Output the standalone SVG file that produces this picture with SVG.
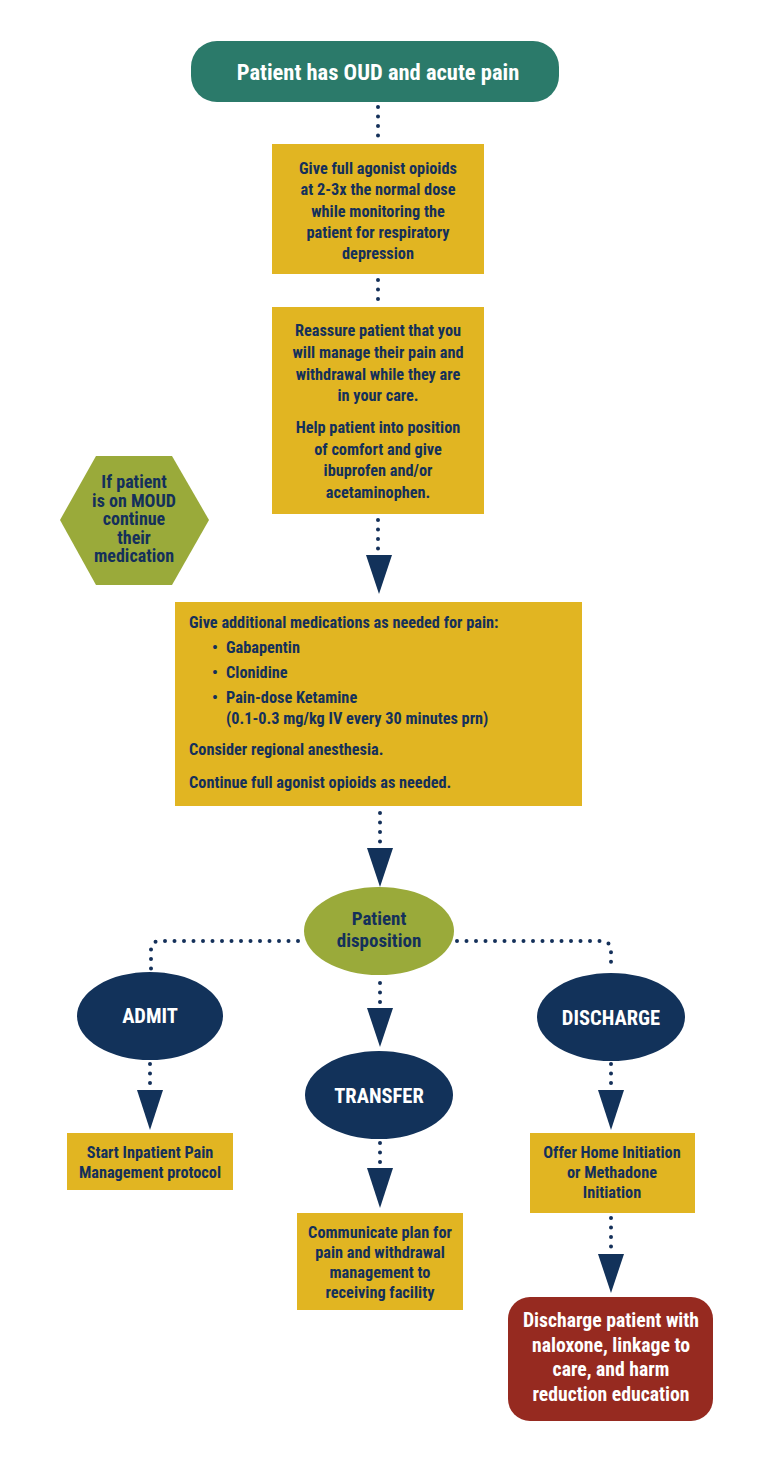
<svg xmlns="http://www.w3.org/2000/svg" width="764" height="1463" viewBox="0 0 764 1463">
<style>
text{font-family:"Liberation Sans Narrow","Roboto Condensed","DejaVu Sans Condensed","Liberation Sans",sans-serif;font-weight:bold;text-anchor:middle}
.d{fill:#14305a;font-size:16.3px}
.w{fill:#ffffff}
.box{fill:#e1b522}
.grn{fill:#9aaa3a}
.nav{fill:#12325a}
.big{font-size:20.5px}
.hx{font-size:18px}
.ds{font-size:19px}
.dot{fill:none;stroke:#14305a;stroke-width:4;stroke-linecap:round;stroke-dasharray:0 9.5}
.arr{fill:#12325a}
.l{text-anchor:start}
</style>
<rect width="764" height="1463" fill="#ffffff"/>
<g id="connectors">
<path class="dot" d="M378 107 V140"/>
<path class="dot" d="M378 280 V301"/>
<path class="dot" d="M378 520 V549"/>
<polygon class="arr" points="366,555 392,555 379,594"/>
<path class="dot" d="M380 813 V842"/>
<polygon class="arr" points="367,848 393,848 380,887"/>
<path class="dot" d="M298 941 H160 Q151 941 151 950 V969"/>
<path class="dot" d="M457 941 H601 Q611 941 611 951 V967"/>
<path class="dot" d="M380 983 V1003"/>
<polygon class="arr" points="367,1008 393,1008 380,1047"/>
<path class="dot" d="M150 1064 V1085"/>
<polygon class="arr" points="137,1090 163,1090 150,1130"/>
<path class="dot" d="M380 1143 V1163"/>
<polygon class="arr" points="367,1168 393,1168 380,1208"/>
<path class="dot" d="M611 1064 V1085"/>
<polygon class="arr" points="598,1090 624,1090 611,1130"/>
<path class="dot" d="M611 1218 V1248"/>
<polygon class="arr" points="598,1254 624,1254 611,1293"/>
</g>
<g id="start">
<rect x="191" y="41" width="368" height="61" rx="26" fill="#2b7a6a"/>
<text class="w" x="378" y="80" font-size="22.5">Patient has OUD and acute pain</text>
</g>
<g id="give-opioids">
<rect class="box" x="272" y="144" width="212" height="130"/>
<text class="d" x="378" y="174">Give full agonist opioids</text>
<text class="d" x="378" y="195">at 2-3x the normal dose</text>
<text class="d" x="378" y="217">while monitoring the</text>
<text class="d" x="378" y="238">patient for respiratory</text>
<text class="d" x="378" y="259">depression</text>
</g>
<g id="reassure">
<rect class="box" x="272" y="307" width="212" height="207"/>
<text class="d" x="378" y="336">Reassure patient that you</text>
<text class="d" x="378" y="358">will manage their pain and</text>
<text class="d" x="378" y="380">withdrawal while they are</text>
<text class="d" x="378" y="401">in your care.</text>
<text class="d" x="378" y="433">Help patient into position</text>
<text class="d" x="378" y="455">of comfort and give</text>
<text class="d" x="378" y="476">ibuprofen and/or</text>
<text class="d" x="378" y="498">acetaminophen.</text>
</g>
<g id="moud">
<polygon class="grn" points="60,520 96,456 172,456 209,520 172,585 96,585"/>
<text class="d hx" x="134" y="488">If patient</text>
<text class="d hx" x="134" y="506.5">is on MOUD</text>
<text class="d hx" x="134" y="525">continue</text>
<text class="d hx" x="134" y="543.5">their</text>
<text class="d hx" x="134" y="562">medication</text>
</g>
<g id="additional">
<rect class="box" x="175" y="602" width="407" height="204"/>
<text class="d l" x="189" y="628">Give additional medications as needed for pain:</text>
<text class="d l" x="212" y="653">•</text>
<text class="d l" x="226" y="653">Gabapentin</text>
<text class="d l" x="212" y="678">•</text>
<text class="d l" x="226" y="678">Clonidine</text>
<text class="d l" x="212" y="703">•</text>
<text class="d l" x="226" y="703">Pain-dose Ketamine</text>
<text class="d l" x="226" y="724">(0.1-0.3 mg/kg IV every 30 minutes prn)</text>
<text class="d l" x="189" y="755">Consider regional anesthesia.</text>
<text class="d l" x="189" y="788">Continue full agonist opioids as needed.</text>
</g>
<g id="disposition">
<ellipse class="grn" cx="379" cy="931" rx="75" ry="44"/>
<text class="d ds" x="379" y="925">Patient</text>
<text class="d ds" x="379" y="947">disposition</text>
</g>
<g id="admit">
<ellipse class="nav" cx="150" cy="1016" rx="73" ry="44"/>
<text class="w big" x="150" y="1023">ADMIT</text>
</g>
<g id="transfer">
<ellipse class="nav" cx="379" cy="1095" rx="74" ry="44"/>
<text class="w big" x="379" y="1103">TRANSFER</text>
</g>
<g id="discharge">
<ellipse class="nav" cx="611" cy="1017" rx="74" ry="44"/>
<text class="w big" x="611" y="1025">DISCHARGE</text>
</g>
<g id="inpatient">
<rect class="box" x="67" y="1133" width="166" height="57"/>
<text class="d" x="150" y="1158">Start Inpatient Pain</text>
<text class="d" x="150" y="1178">Management protocol</text>
</g>
<g id="communicate">
<rect class="box" x="297" y="1213" width="166" height="97"/>
<text class="d" x="380" y="1238">Communicate plan for</text>
<text class="d" x="380" y="1258">pain and withdrawal</text>
<text class="d" x="380" y="1278">management to</text>
<text class="d" x="380" y="1298">receiving facility</text>
</g>
<g id="offer">
<rect class="box" x="530" y="1133" width="165" height="80"/>
<text class="d" x="612" y="1158">Offer Home Initiation</text>
<text class="d" x="612" y="1178">or Methadone</text>
<text class="d" x="612" y="1198">Initiation</text>
</g>
<g id="discharge-final">
<rect x="508" y="1297" width="205" height="124" rx="22" fill="#962a20"/>
<text class="w" x="611" y="1327" font-size="19.7">Discharge patient with</text>
<text class="w" x="611" y="1352" font-size="19.7">naloxone, linkage to</text>
<text class="w" x="611" y="1376" font-size="19.7">care, and harm</text>
<text class="w" x="611" y="1401" font-size="19.7">reduction education</text>
</g>
</svg>
